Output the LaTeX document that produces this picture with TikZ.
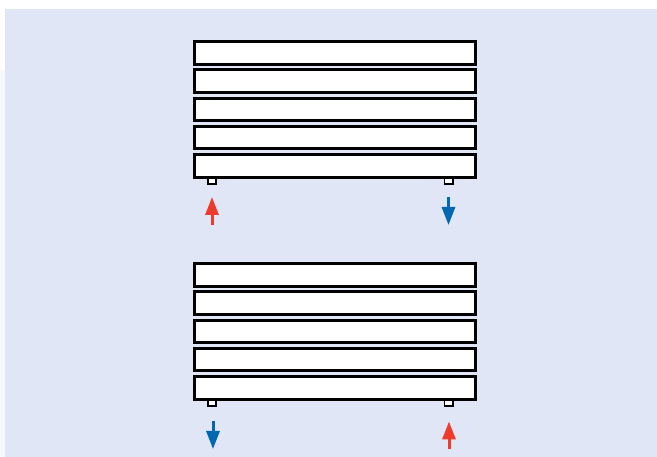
\documentclass[tikz,border=0pt]{standalone}
\usetikzlibrary{arrows.meta}
\definecolor{bgblue}{HTML}{E0E6F5}
\definecolor{hotred}{HTML}{EE3B2B}
\definecolor{coldblue}{HTML}{0068B0}
\definecolor{paleblue}{HTML}{F5F8FD}
\tikzset{
  bar/.style={draw=black,fill=white,line width=3.2pt,inner sep=0pt,minimum width=280.5pt,minimum height=22.3pt},
  stub/.style={draw=black,fill=white,line width=1.8pt,inner sep=0pt,minimum width=8.2pt,minimum height=9pt},
  flow/.style={line width=3pt,-{Triangle[length=18pt,width=13pt]}},
  hot/.style={flow,draw=hotred,color=hotred},
  cold/.style={flow,draw=coldblue,color=coldblue}
}
\begin{document}
\begin{tikzpicture}[x=1pt,y=-1pt]
\useasboundingbox (0,0) rectangle (657,457);
\fill[white] (0,0) rectangle (657,457);
\fill[paleblue] (0,70) rectangle (5,457);
\fill[bgblue] (5,9) rectangle (657,457);
% upper radiator
\node[stub] (s1) at (212,179.3) {};
\node[stub] (s2) at (448.5,179.3) {};
\node[bar] (a1) at (335,53) {};
\node[bar] (a2) at (335,81) {};
\node[bar] (a3) at (335,109.3) {};
\node[bar] (a4) at (335,137.6) {};
\node[bar] (a5) at (335,166) {};
% lower radiator
\node[stub] (s3) at (212,401.5) {};
\node[stub] (s4) at (448.5,401.5) {};
\node[bar] (b1) at (335,275) {};
\node[bar] (b2) at (335,303) {};
\node[bar] (b3) at (335,331.3) {};
\node[bar] (b4) at (335,359.6) {};
\node[bar] (b5) at (335,388) {};
% flow arrows
\coordinate (r1a) at (212,225);
\coordinate (r1b) at (212,197);
\coordinate (c1a) at (448.5,197);
\coordinate (c1b) at (448.5,225);
\coordinate (c2a) at (213,421);
\coordinate (c2b) at (213,449);
\coordinate (r2a) at (449,449.5);
\coordinate (r2b) at (449,421.5);
\draw[hot] (r1a) -- (r1b);
\draw[cold] (c1a) -- (c1b);
\draw[cold] (c2a) -- (c2b);
\draw[hot] (r2a) -- (r2b);
\end{tikzpicture}
\end{document}
